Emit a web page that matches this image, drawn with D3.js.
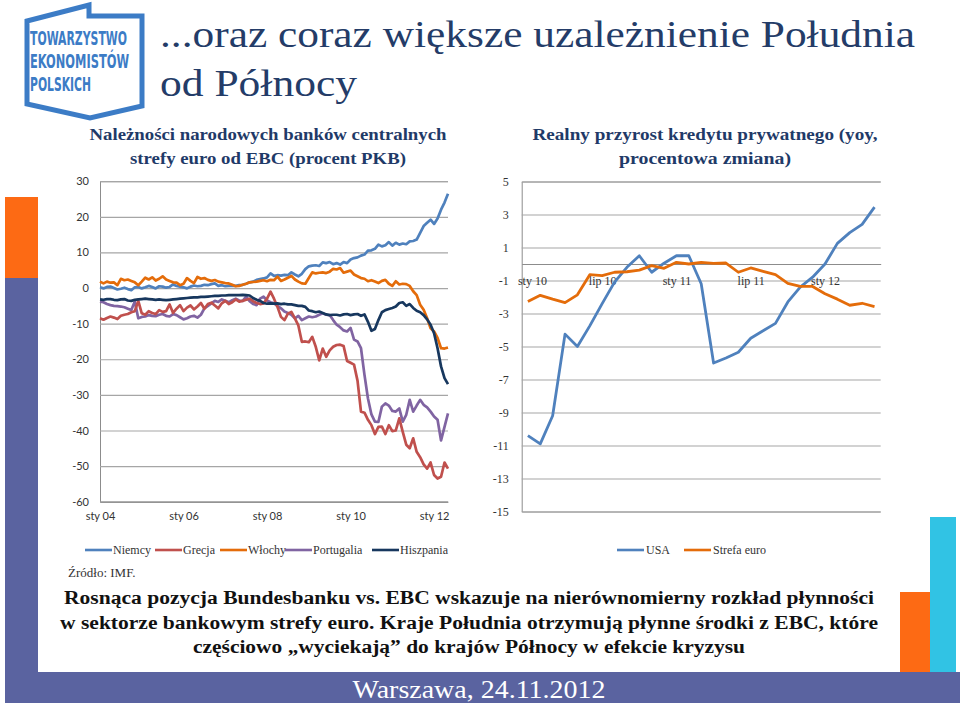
<!DOCTYPE html>
<html><head><meta charset="utf-8">
<script src="https://cdn.jsdelivr.net/npm/d3@7"></script>
<style>
body{margin:0;background:#fff}svg{display:block}
.srf{font-family:"Liberation Serif","DejaVu Serif",serif}
</style>
</head><body>
<svg id="c" width="960" height="703"></svg>
<script>
// ---------- DATA ----------
const leftSeriesNames = ["Niemcy","Grecja","Włochy","Portugalia","Hiszpania"];
// monthly, Jan 2004 .. May 2012 (101 points), % of GDP
const niemcy = [0.2,-0.1,0.3,0.4,0.0,-0.4,-0.2,0.1,-0.3,-0.6,
 0.2,0.3,-0.1,0.2,0.6,0.3,-0.1,0.5,0.4,0.1,
 0.3,1.0,0.6,0.4,0.2,-0.1,0.4,0.7,0.5,0.6,
 0.9,0.8,1.1,1.3,0.6,0.8,0.5,0.6,0.7,0.6,
 0.8,0.9,1.2,1.6,1.8,2.3,2.5,2.7,3.0,4.1,
 3.4,3.6,3.5,3.7,3.6,4.4,3.8,3.3,4.0,5.3,
 6.1,6.3,6.4,6.2,7.2,7.0,7.3,6.7,7.0,6.6,
 7.3,7.0,8.0,8.4,8.6,9.1,9.4,10.5,10.6,11.0,
 12.2,11.7,12.0,12.9,11.9,12.7,12.2,12.5,12.3,13.1,
 13.2,13.6,15.5,17.4,18.3,19.2,18.0,19.5,22.0,24.0,
 26.5];
const grecja = [-8.5,-8.9,-8.4,-8.0,-8.3,-8.7,-7.8,-7.5,-7.3,-6.8,
 -6.5,-3.6,-7.1,-7.5,-6.5,-7.0,-7.3,-6.2,-6.7,-6.5,
 -4.6,-7.0,-5.8,-4.8,-6.5,-5.5,-4.9,-6.0,-5.2,-4.2,
 -5.8,-4.5,-4.1,-4.9,-5.7,-4.3,-3.6,-4.5,-4.0,-3.2,
 -3.8,-3.6,-3.3,-3.0,-3.7,-4.2,-4.5,-4.3,-3.0,-1.0,
 -3.0,-5.3,-8.1,-9.0,-7.2,-6.7,-8.5,-10.5,-15.1,-15.0,
 -15.2,-13.7,-16.5,-20.3,-17.0,-19.3,-17.5,-16.5,-16.0,-15.9,
 -16.3,-20.5,-21.0,-21.5,-26.0,-34.7,-35.0,-37.0,-38.5,-41.0,
 -39.0,-38.9,-41.0,-38.5,-40.2,-40.0,-36.6,-40.4,-44.0,-45.0,
 -42.2,-46.0,-47.5,-49.5,-50.7,-49.0,-52.5,-53.5,-53.0,-49.0,
 -50.7];
const wlochy = [1.8,1.3,1.8,1.5,1.6,0.8,2.6,2.2,2.4,2.0,
 1.6,0.8,1.8,2.9,2.4,3.0,2.1,2.6,3.3,2.4,
 2.0,1.6,1.5,0.8,1.2,2.8,2.0,1.4,3.1,2.6,
 2.8,2.3,2.0,2.25,1.8,1.6,1.4,1.3,0.9,0.5,
 0.6,0.9,1.2,1.6,1.7,1.8,2.0,2.2,1.9,2.3,
 2.2,3.2,2.0,2.4,2.9,3.4,2.4,1.8,1.3,1.2,
 2.8,4.4,4.1,4.3,4.4,4.2,4.6,5.4,5.2,5.6,
 4.3,4.6,4.9,3.8,3.3,2.8,2.6,1.9,2.2,1.8,
 1.4,2.0,2.3,1.2,0.6,1.9,1.0,1.2,1.1,0.6,
 -0.9,-2.0,-4.7,-6.1,-8.5,-11.3,-12.2,-14.0,-16.9,-17.0,
 -16.7];
const portugalia = [-3.8,-4.0,-4.5,-4.8,-5.0,-5.1,-5.2,-5.4,-5.8,-6.2,
 -3.8,-8.5,-8.1,-8.0,-7.6,-7.8,-7.9,-7.5,-7.3,-7.8,
 -8.0,-7.3,-7.6,-8.2,-8.8,-8.5,-8.0,-7.8,-8.3,-7.5,
 -5.7,-5.0,-4.3,-3.6,-3.9,-3.2,-3.6,-4.0,-3.4,-3.0,
 -3.5,-3.6,-2.4,-3.7,-4.5,-4.8,-3.0,-2.4,-3.5,-4.0,
 -4.3,-5.0,-5.7,-6.6,-7.0,-7.5,-8.5,-7.8,-9.0,-8.5,
 -8.0,-8.2,-8.0,-7.5,-7.1,-7.5,-7.6,-9.0,-10.3,-11.0,
 -11.9,-12.2,-11.2,-14.5,-15.0,-16.9,-24.4,-31.0,-35.5,-37.5,
 -37.6,-33.3,-32.4,-33.0,-34.5,-34.7,-33.8,-37.5,-35.6,-31.4,
 -34.7,-33.0,-31.4,-32.8,-33.5,-34.7,-36.1,-37.0,-42.8,-39.0,
 -35.2];
const hiszpania = [-3.2,-3.3,-3.1,-3.1,-3.3,-3.4,-3.2,-3.1,-3.5,-3.6,
 -3.3,-3.2,-3.1,-3.0,-3.1,-3.2,-3.3,-3.2,-3.3,-3.4,
 -3.3,-3.2,-3.1,-3.0,-2.9,-2.8,-2.7,-2.6,-2.6,-2.5,
 -2.5,-2.4,-2.3,-2.2,-2.2,-2.1,-2.1,-2.0,-2.0,-2.0,
 -2.0,-1.9,-2.0,-2.1,-2.8,-3.3,-3.6,-4.2,-4.4,-4.3,
 -4.4,-4.3,-4.5,-4.4,-4.6,-4.6,-4.8,-5.0,-5.0,-5.3,
 -6.3,-6.5,-6.8,-6.6,-7.0,-7.4,-7.6,-7.5,-7.5,-7.7,
 -7.4,-7.3,-7.6,-7.4,-7.3,-7.8,-7.4,-9.5,-12.0,-11.5,
 -9.0,-6.8,-6.2,-5.9,-5.6,-5.2,-4.2,-4.0,-5.0,-4.5,
 -5.6,-6.4,-6.8,-7.6,-8.8,-10.3,-12.7,-16.9,-22.0,-25.3,
 -27.0];
const leftTickIndex = [0,24,48,72,96];
const leftTickLabels = ["sty 04","sty 06","sty 08","sty 10","sty 12"];
const leftYTicks = [30,20,10,0,-10,-20,-30,-40,-50,-60];

const rightSeriesNames = ["USA","Strefa euro"];
// monthly, Jan 2010 .. May 2012 (29 points), yoy %
const usa = [-10.4,-10.9,-9.2,-4.25,-5.0,-3.75,-2.4,-1.1,-0.2,0.5,
 -0.5,0.05,0.5,0.5,-1.2,-6.0,-5.7,-5.35,-4.5,-4.05,
 -3.6,-2.3,-1.4,-0.8,0.0,1.25,1.9,2.4,3.45];
const strefaEuro = [-2.28,-1.9,-2.13,-2.34,-1.87,-0.65,-0.7,-0.5,-0.47,-0.37,
 -0.1,-0.26,0.1,0.0,0.1,0.04,0.06,-0.5,-0.24,-0.45,
 -0.65,-1.18,-1.36,-1.36,-1.8,-2.13,-2.5,-2.38,-2.58];
const rightTickIndex = [0,6,12,18,24];
const rightTickLabels = ["sty 10","lip 10","sty 11","lip 11","sty 12"];
const rightYTicks = [5,3,1,-1,-3,-5,-7,-9,-11,-13,-15];

// ---------- STYLE ----------
const leftColors = ["#4f81bd","#c0504d","#e46c0a","#8064a2","#17375e"];
const rightColors = ["#4f81bd","#e46c0a"];
const gridColor = "#a6a6a6";
const navy = "#243c68";
const fmt = d => (d<0 ? "-" : "") + Math.abs(d);
const sansFam = 'Lato,"Open Sans",sans-serif';
const serifFam = '"Liberation Serif","DejaVu Serif",serif';

const svg = d3.select("#c");

// decorative frame
svg.append("rect").attr("x",5).attr("y",197).attr("width",33).attr("height",81).attr("fill","#fd6a14");
svg.append("rect").attr("x",5).attr("y",278).attr("width",33).attr("height",425).attr("fill","#5a63a0");
svg.append("rect").attr("x",5).attr("y",672).attr("width",955).attr("height",31).attr("fill","#5a63a0");
svg.append("rect").attr("x",900).attr("y",592).attr("width",30).attr("height",80).attr("fill","#fd6a14");
svg.append("rect").attr("x",930).attr("y",517).attr("width",26).attr("height",155).attr("fill","#31c3e4");

// logo
const logoBlue = "#3c7cc6";
svg.append("path").attr("d","M27,104 L27,21 L89,5 L89,16 L142,16 L142,106 L90,118 Z")
  .attr("fill","none").attr("stroke",logoBlue).attr("stroke-width",5).attr("stroke-linejoin","miter");
const logoLines = ["TOWARZYSTWO","EKONOMISTÓW","POLSKICH"];
const logoW = [97,99,61];
logoLines.forEach((t,i)=>{
  svg.append("g").attr("transform",`translate(30,${45+i*23}) scale(1,1.5)`)
    .append("text").attr("x",0).attr("y",0).text(t)
    .style("font-family","'Liberation Sans Narrow','DejaVu Sans Condensed',sans-serif")
    .attr("font-weight","bold").attr("font-size",13.5).attr("fill",logoBlue)
    .attr("textLength",logoW[i]).attr("lengthAdjust","spacingAndGlyphs");
});

// main title
svg.append("text").attr("class","srf").attr("x",160).attr("y",47).text("...oraz coraz większe uzależnienie Południa")
  .attr("font-size",37).attr("fill",navy)
  .attr("textLength",755).attr("lengthAdjust","spacingAndGlyphs");
svg.append("text").attr("class","srf").attr("x",160).attr("y",96).text("od Północy")
  .attr("font-size",37).attr("fill",navy)
  .attr("textLength",197).attr("lengthAdjust","spacingAndGlyphs");

// chart titles
function title(lines, cx, widths){
  lines.forEach((t,i)=>{
    svg.append("text").attr("class","srf").attr("x",cx).attr("y",140+i*24).attr("text-anchor","middle").text(t)
      .attr("font-size",17).attr("font-weight","bold").attr("fill","#1f3a68")
      .attr("textLength",widths[i]).attr("lengthAdjust","spacingAndGlyphs");
  });
}
title(["Należności narodowych banków centralnych","strefy euro od EBC (procent PKB)"],268,[357,276]);
title(["Realny przyrost kredytu prywatnego (yoy,","procentowa zmiana)"],705,[345,172]);

// ---------- LEFT CHART ----------
const xL = d3.scalePoint().domain(d3.range(niemcy.length)).range([100,448]);
const yL = d3.scaleLinear().domain([-60,30]).range([501.7,181.2]);
const gL = svg.append("g");
const yAxL = gL.append("g").attr("transform","translate(100,0)")
  .call(d3.axisLeft(yL).tickValues(leftYTicks).tickSize(-348).tickPadding(11).tickFormat(fmt));
yAxL.select(".domain").attr("stroke","#8c8c8c");
yAxL.selectAll(".tick line").attr("stroke",gridColor).attr("stroke-width",1.2);
const xAxL = gL.append("g").attr("transform","translate(0,501.7)")
  .call(d3.axisBottom(xL).tickValues(leftTickIndex).tickSize(0).tickPadding(11)
    .tickFormat(d=>leftTickLabels[leftTickIndex.indexOf(d)]));
xAxL.select(".domain").attr("stroke","#8c8c8c");
gL.selectAll(".tick text").attr("font-size",11).attr("fill","#333").style("font-family",sansFam);

const leftData = [niemcy,grecja,wlochy,portugalia,hiszpania];
const lineL = d3.line().x((d,i)=>xL(i)).y(d=>yL(d));
[0,2,3,1,4].forEach(k=>{
  gL.append("path").datum(leftData[k]).attr("d",lineL).attr("fill","none")
    .attr("stroke",leftColors[k]).attr("stroke-width",2.7).attr("stroke-linejoin","round");
});

// left legend
const legL = svg.append("g");
const legLx = [85,155,220,285,372];
leftSeriesNames.forEach((n,i)=>{
  legL.append("line").attr("x1",legLx[i]).attr("x2",legLx[i]+27).attr("y1",550).attr("y2",550)
    .attr("stroke",leftColors[i]).attr("stroke-width",2.6);
  legL.append("text").attr("class","srf").attr("x",legLx[i]+28).attr("y",554).text(n)
    .attr("font-size",12).attr("fill","#333");
});
svg.append("text").attr("class","srf").attr("x",68).attr("y",577).text("Źródło: IMF.")
  .attr("font-size",13).attr("fill","#333");

// ---------- RIGHT CHART ----------
const xR = d3.scalePoint().domain(d3.range(usa.length)).range([521.7,880.7]).padding(0.5);
const yR = d3.scaleLinear().domain([-15,5]).range([511.5,181.5]);
const gR = svg.append("g");
const yAxR = gR.append("g").attr("transform","translate(521.7,0)")
  .call(d3.axisLeft(yR).tickValues(rightYTicks).tickSize(-359).tickPadding(13).tickFormat(fmt));
yAxR.select(".domain").attr("stroke","#8c8c8c");
yAxR.selectAll(".tick line").attr("stroke",gridColor).attr("stroke-width",1.2);
const xAxR = gR.append("g").attr("transform",`translate(0,${yR(0)})`)
  .call(d3.axisBottom(xR).tickValues(rightTickIndex).tickSize(0).tickPadding(12)
    .tickFormat(d=>rightTickLabels[rightTickIndex.indexOf(d)]));
xAxR.select(".domain").attr("stroke","#8c8c8c");
xAxR.selectAll(".tick text").attr("dx", (d,i)=> i===0 ? 4 : 0);
gR.selectAll(".tick text").attr("font-size",12).attr("fill","#333").style("font-family",serifFam);

const lineR = d3.line().x((d,i)=>xR(i)).y(d=>yR(d));
[usa,strefaEuro].forEach((s,k)=>{
  gR.append("path").datum(s).attr("d",lineR).attr("fill","none")
    .attr("stroke",rightColors[k]).attr("stroke-width",2.8).attr("stroke-linejoin","round");
});

const legR = svg.append("g");
const legRx = [617,684];
rightSeriesNames.forEach((n,i)=>{
  legR.append("line").attr("x1",legRx[i]).attr("x2",legRx[i]+27).attr("y1",550).attr("y2",550)
    .attr("stroke",rightColors[i]).attr("stroke-width",2.6);
  legR.append("text").attr("class","srf").attr("x",legRx[i]+29).attr("y",554).text(n)
    .attr("font-size",12).attr("fill","#333");
});

// ---------- BOTTOM TEXT ----------
const bottomLines = [
  "Rosnąca pozycja Bundesbanku vs. EBC wskazuje na nierównomierny rozkład płynności",
  "w sektorze bankowym strefy euro. Kraje Południa otrzymują płynne środki z EBC, które",
  "częściowo „wyciekają” do krajów Północy w efekcie kryzysu"];
const bottomW = [810,818,552];
bottomLines.forEach((t,i)=>{
  svg.append("text").attr("class","srf").attr("x",469).attr("y",604+i*24.5).attr("text-anchor","middle").text(t)
    .attr("font-size",18).attr("font-weight","bold").attr("fill","#111")
    .attr("textLength",bottomW[i]).attr("lengthAdjust","spacingAndGlyphs");
});
svg.append("text").attr("class","srf").attr("x",479).attr("y",698).attr("text-anchor","middle").text("Warszawa, 24.11.2012")
  .attr("font-size",25).attr("fill","#fff")
  .attr("textLength",253).attr("lengthAdjust","spacingAndGlyphs");
</script>
</body></html>
